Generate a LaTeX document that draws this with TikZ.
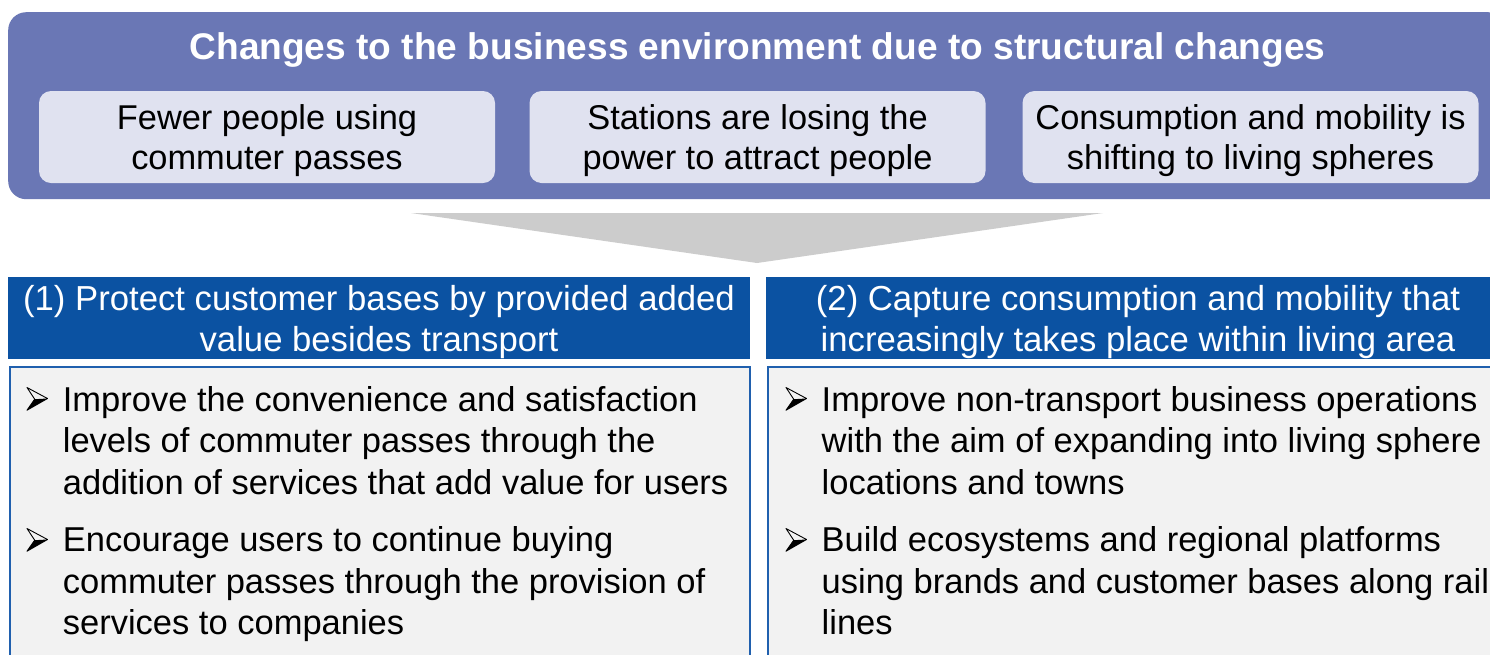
\documentclass[tikz,border=0pt]{standalone}
\usepackage{fontspec}
\setmainfont{Liberation Sans}
\definecolor{purp}{HTML}{6A77B5}
\definecolor{lightp}{HTML}{E0E2F0}
\definecolor{hblue}{HTML}{0B52A2}
\definecolor{bblue}{HTML}{2060AE}
\definecolor{bodyg}{HTML}{F2F2F2}
\definecolor{trigray}{HTML}{CCCCCC}
\tikzset{
  arrowbul/.pic={
    \fill[black] (7.7,11.7) -- (20.5,11) -- (0,22.7) -- cycle;
    \draw[line width=0.9pt,line join=round] (0,0) -- (20.5,11) -- (0,22.7) -- (7.7,11.7) -- cycle;
  },
  cbox/.style={fill=lightp,rounded corners=12pt,minimum width=456pt,minimum height=92pt,inner sep=0pt},
  ctext/.style={anchor=base,align=center,inner sep=0pt,font=\fontsize{34.4}{40}\selectfont},
  hbox/.style={fill=hblue,anchor=north west,minimum height=82pt,inner sep=0pt},
  htext/.style={anchor=base,align=center,inner sep=0pt,text=white,font=\fontsize{34.7}{41}\selectfont},
  bbox/.style={fill=bodyg,draw=bblue,line width=2pt,anchor=north west,minimum height=320pt,inner sep=0pt},
  btext/.style={anchor=base west,align=left,inner sep=0pt,font=\fontsize{34.5}{41.5}\selectfont},
}
\begin{document}
\begin{tikzpicture}[x=1pt,y=-1pt]
\useasboundingbox (0,0) rectangle (1490,654);
\clip (0,0) rectangle (1490,654);
\fill[white] (0,0) rectangle (1490,654);
% top banner
\node[fill=purp,rounded corners=18pt,anchor=north west,minimum width=1498pt,minimum height=187pt,inner sep=0pt] (banner) at (8,12) {};
\node[anchor=base,inner sep=0pt,text=white,font=\bfseries\fontsize{37.1}{40}\selectfont] (title) at (757.5,59.3) {Changes to the business environment due to structural changes};
\node[cbox] (c1) at (267,137) {};
\node[cbox] (c2) at (757.5,137) {};
\node[cbox] (c3) at (1250.5,137) {};
\node[ctext] (t1) at (267,169.3) {Fewer people using\\commuter passes};
\node[ctext] (t2) at (757.5,169.3) {Stations are losing the\\power to attract people};
\node[ctext] (t3) at (1250.5,169.3) {Consumption and mobility is\\shifting to living spheres};
% arrow
\coordinate (al) at (411,213);
\coordinate (ar) at (1103,213);
\coordinate (at) at (757,263);
\fill[trigray] (al) -- (ar) -- (at) -- cycle;
% headers
\node[hbox,minimum width=742pt] (h1) at (8,277) {};
\node[hbox,minimum width=744pt] (h2) at (766,277) {};
\node[htext] (ht1) at (379,351.7) {(1) Protect customer bases by provided added\\value besides transport};
\node[htext] (ht2) at (1138,351.7) {(2) Capture consumption and mobility that\\increasingly takes place within living area};
% bodies
\node[bbox,minimum width=740pt] (b1) at (9,366) {};
\node[bbox,minimum width=743pt] (b2) at (767,366) {};
\pic at (27,387.5) {arrowbul};
\pic at (27,528.5) {arrowbul};
\pic at (786,387.5) {arrowbul};
\pic at (786,528.5) {arrowbul};
\node[btext] (l1) at (62.7,494) {Improve the convenience and satisfaction\\levels of commuter passes through the\\addition of services that add value for users};
\node[btext] (l2) at (62.7,634.5) {Encourage users to continue buying\\commuter passes through the provision of\\services to companies};
\node[btext] (r1) at (821.5,494) {Improve non-transport business operations\\with the aim of expanding into living sphere\\locations and towns};
\node[btext] (r2) at (821.5,634.5) {Build ecosystems and regional platforms\\using brands and customer bases along rail\\lines};
\end{tikzpicture}
\end{document}
